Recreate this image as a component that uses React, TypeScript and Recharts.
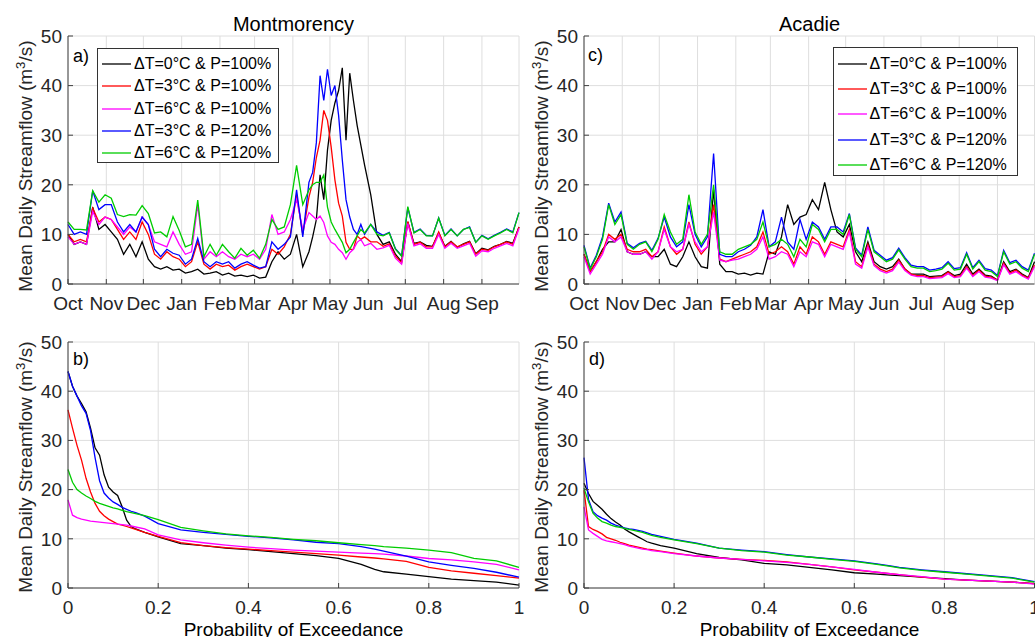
import React from 'react';
import { LineChart, Line, XAxis, YAxis, CartesianGrid, Legend } from 'recharts';

const FONT = '"Liberation Sans", Arial, Helvetica, sans-serif';
const AXIS = '#404040';
const TEXT = '#262626';
const GRID = '#dedede';

const SCENARIOS = [
  'ΔT=0°C & P=100%',
  'ΔT=3°C & P=100%',
  'ΔT=6°C & P=100%',
  'ΔT=3°C & P=120%',
  'ΔT=6°C & P=120%',
];
const COLORS = ['#000000', '#ff0000', '#ff00ff', '#0000ff', '#00cc00'];
const KEYS = ['s0', 's1', 's2', 's3', 's4'];

const MONTHS = ['Oct', 'Nov', 'Dec', 'Jan', 'Feb', 'Mar', 'Apr', 'May', 'Jun', 'Jul', 'Aug', 'Sep'];
const MONTH_STARTS = [0, 31, 61, 92, 123, 151, 182, 212, 243, 273, 304, 335];
const FLOW_TICKS = [0, 10, 20, 30, 40, 50];
const PROB_TICKS = [0, 0.2, 0.4, 0.6, 0.8, 1];

// Montmorency, mean daily flow, day of water year (1 Oct = 0)
const MONT_DAYS = [
  0, 5, 10, 15, 20, 25, 30, 35, 40, 45, 50, 55, 60, 65, 70, 75, 80, 85, 90, 95, 100, 105, 110, 115, 120, 125, 130,
  135, 140, 145, 150, 155, 160, 165, 170, 175, 180, 185, 190,
  195, 198, 201, 204, 207, 210, 213, 216, 219, 222, 225, 228, 231, 234, 237, 240,
  245, 250, 255, 260, 265, 270, 275, 280, 285, 290, 295, 300, 305, 310, 315, 320, 325, 330, 335, 340, 345, 350,
  355, 360, 365,
];
const MONT_T0_P100 = [
  10, 8, 8.5, 8, 15.5, 11, 12, 10.5, 9, 6, 8, 5.5, 8.5, 5, 3.5, 3, 3.5, 2.8, 3, 2.2, 2.5, 3, 2, 2.2, 2.5, 1.8, 2.2,
  1.6, 1.8, 1.5, 1.8, 1.2, 1.4, 4.5, 6.5, 5, 6, 10, 3.5,
  6.5, 9.5, 13, 22, 17, 27, 33, 36.5, 39, 43.6, 29, 42.5, 37, 32, 28, 24,
  18, 10, 8, 8.5, 6, 4.5, 12.5, 8.2, 8.5, 7.8, 7.6, 10.3, 7.6, 8.6, 7.4, 8.1, 8.6, 6.1, 7.2, 6.9, 7.6, 8, 8.6,
  8.2, 11.5,
];
const MONT_T3_P100 = [
  10, 8.5, 9, 8.5, 15.3, 12.5, 13.5, 13, 11, 9, 10.5, 9, 12.5, 10, 6, 5, 6.5, 5.5, 5, 3.5, 4.5, 8.5, 4, 3, 4, 3.5,
  3.8, 2.8, 3.5, 4, 3.5, 3, 3.5, 7, 6, 7.5, 10, 18, 10,
  17.5, 20.5, 25.5, 29, 35, 33, 27.6, 21, 16.3, 13.7, 8.4, 7, 7, 9.7, 9, 9.5,
  8.5, 8.5, 7.6, 8.1, 5.6, 4.3, 12.6, 8, 8.4, 7.5, 7.5, 10.5, 7.5, 8.5, 7.5, 8, 8.5, 6, 7, 6.8, 7.5, 8, 8.5, 8,
  11.5,
];
const MONT_T6_P100 = [
  9.5, 8, 8.5, 8, 14.6, 12, 13.5, 13, 11.5, 10, 11.5, 10.5, 13.5, 12, 8.5, 8, 7.5, 10.5, 8, 6, 6.5, 16, 5, 6.5,
  5.5, 6.5, 5.5, 5, 6, 5.5, 6, 5, 7, 14, 10, 10.5, 13, 17, 11,
  14.4, 13.7, 13, 13.7, 12.4, 9.7, 8.4, 8, 7, 6.3, 5, 6.3, 7, 8.4, 9, 7.7,
  8.2, 7, 7.3, 7.8, 5.2, 4, 12.2, 7.7, 8.1, 7.2, 7.2, 10, 7.2, 8.2, 7.2, 7.7, 8.2, 5.6, 6.7, 6.5, 7.2, 7.7, 8.2,
  7.7, 11.2,
];
const MONT_T3_P120 = [
  12, 10, 10.5, 10, 18.8, 15, 16, 16, 12.5, 10.5, 12, 10.5, 13.5, 12, 7, 5.5, 7, 6.2, 5.8, 4, 5, 9.2, 4.5, 3.5,
  4.5, 4, 4.5, 3.2, 4, 4.5, 3.8, 3.2, 3.5, 8.5, 7, 8, 9.5, 19, 9.5,
  20.5, 22.5, 28.5, 42, 37, 43.3, 38, 40, 34, 25, 17, 13.5, 11, 10, 12, 10,
  12, 10.5, 9.8, 10.4, 7.1, 5.7, 15.4, 10.4, 11.1, 9.8, 9.7, 13.3, 9.8, 11.1, 9.7, 11, 11.5, 8.4, 9.8, 9.1, 9.8,
  10.4, 11.1, 10.5, 14.4,
];
const MONT_T6_P120 = [
  12.5, 11, 11, 10.9, 18.8, 16.5, 18, 17.3, 14, 13.6, 14, 13.9, 15.8, 14.2, 10.3, 10.5, 9.5, 13.6, 10.8, 7.5, 8,
  16.9, 5.5, 8, 5.8, 8, 6.5, 5.2, 7.2, 5.8, 6.8, 5.2, 8, 13, 11, 11.5, 16, 23.9, 16,
  19, 20, 20.5, 20.5, 22, 15.5, 12.5, 11, 9.7, 8.4, 6.3, 7, 8.4, 9.7, 11, 10.3,
  12, 10, 9.7, 10.3, 7, 5.6, 15.6, 10.3, 11, 9.7, 9.7, 13.3, 9.7, 11, 9.7, 11, 11.4, 8.4, 9.7, 9, 9.7, 10.3, 11,
  10.3, 14.4,
];

// Acadie, mean daily flow
const ACAD_DAYS = [
  0, 5, 10, 15, 20, 25, 30, 35, 40, 45, 50, 55, 60, 65, 70, 75, 80, 85, 90, 95, 100, 105, 110, 115, 120, 125, 130,
  135, 140, 145, 150, 155, 160, 165, 170, 175, 180, 185, 190, 195, 200, 205, 210, 215, 220, 225, 230, 235, 240,
  245, 250, 255, 260, 265, 270, 275, 280, 285, 290, 295, 300, 305, 310, 315, 320, 325, 330, 335, 340, 345, 350,
  355, 360, 365,
];
const ACAD_T0_P100 = [
  6, 2.5, 4.5, 7, 8.5, 8.5, 11, 6.5, 6, 6, 6.5, 5.5, 5.5, 7, 4, 3.5, 5.5, 8.5, 5.5, 3.5,
  3.2, 19, 4, 2.5, 2.5, 2, 2.2, 1.8, 2.2, 2, 6.5, 6, 9.5, 16, 12, 13.5, 14, 17, 15, 20.5,
  15, 10.5, 9.5, 12, 6.5, 4.5, 8.5, 4.5, 3.5, 3, 3.5, 5, 3, 2, 2, 2, 1.5, 1.6, 1.7, 2.5,
  1.7, 2, 4, 2, 3, 1.8, 1.6, 0.8, 4.5, 2.5, 3, 2, 1.3, 4.5,
];
const ACAD_T3_P100 = [
  6, 2.5, 4.5, 6.5, 10, 9, 10, 7, 6.5, 6.5, 7, 5.5, 6.5, 11.5, 7.5, 6, 7, 12.5, 8, 6,
  7.5, 16, 5, 4.5, 5, 5.5, 6, 6.5, 7.5, 10.5, 6, 6.5, 7.5, 6.5, 4, 7.5, 6, 9.5, 8.5, 6,
  8.5, 8, 7.5, 11, 4.5, 3.5, 8, 4, 3, 2.5, 3, 4.8, 3, 2, 1.7, 1.7, 1.3, 1.4, 1.5, 2.4,
  1.5, 1.7, 3.5, 1.7, 2.8, 1.6, 1.4, 0.8, 4.2, 2.2, 2.8, 1.8, 1.2, 3.8,
];
const ACAD_T6_P100 = [
  5.5, 2, 4, 6, 9.5, 8.5, 9.5, 6.5, 6, 6, 6.5, 5, 6.5, 11, 7.5, 6.5, 7, 12, 8.5, 6.5,
  7.5, 14.5, 4.8, 4.5, 4.8, 5, 5.5, 6, 7, 9.5, 5, 5.5, 6.5, 6, 3.5, 6.5, 5.5, 8.5, 8, 5.5,
  8, 7.5, 7, 10.5, 4, 3.2, 7.5, 3.7, 2.7, 2.2, 2.7, 4.4, 2.7, 1.8, 1.5, 1.5, 1.1, 1.2, 1.3, 2.1,
  1.3, 1.5, 3.2, 1.5, 2.5, 1.4, 1.2, 0.7, 3.9, 2, 2.5, 1.6, 1, 3.5,
];
const ACAD_T3_P120 = [
  7.8, 3.2, 5.8, 9.5, 16.3, 12.5, 14.5, 8.2, 7.3, 8.2, 8.6, 6.8, 9.2, 13.5, 9.5, 7.5, 8.5, 16, 10, 7.5,
  9.5, 26.3, 6, 5.5, 5.5, 6.5, 7, 7.8, 9.5, 15, 7.5, 8.5, 13.5, 8.5, 7, 13, 9, 12.5, 11.5, 9,
  11.5, 11.5, 10.5, 14.2, 7.3, 5.8, 11.5, 6.8, 5.8, 4.8, 5.3, 7.2, 5.3, 3.8, 3.5, 3.5, 2.8, 3, 3.3, 4.5,
  3.1, 3.3, 6.3, 3.3, 4.8, 3.1, 2.8, 1.7, 6.8, 4.3, 4.8, 3.5, 2.8, 6.2,
];
const ACAD_T6_P120 = [
  7.5, 3, 5.5, 9, 16, 12, 14, 8, 7, 8, 8.5, 6.5, 9, 14, 10.5, 8, 9, 18, 10.5, 8,
  10, 20, 6.5, 6, 6, 7, 7.5, 8, 9, 12.5, 7.5, 8, 9, 8, 5.5, 9, 7.5, 12, 11, 8.5,
  11, 11, 10, 14, 7, 5.5, 11, 6.5, 5.5, 4.5, 5, 6.9, 5, 3.5, 3.2, 3.2, 2.5, 2.7, 3, 4.2,
  2.8, 3, 6, 3, 4.5, 2.8, 2.5, 1.5, 6.5, 4, 4.5, 3.2, 2.5, 6,
];

// flow duration curves
const EXCEEDANCE = [
  0, 0.01, 0.02, 0.03, 0.04, 0.05, 0.06, 0.07, 0.08, 0.09, 0.1, 0.11, 0.12, 0.13, 0.14, 0.15, 0.17, 0.2, 0.25,
  0.3, 0.35, 0.4, 0.45, 0.5, 0.55, 0.6, 0.65, 0.68, 0.7, 0.75, 0.8, 0.85, 0.9, 0.95, 1,
];
const MONT_FDC_T0_P100 = [
  44, 41, 39, 37.5, 35.8, 32.5, 28.5, 27, 23, 20.5, 19.5, 18.8, 16.5, 13.8, 12.5, 12, 11.3, 10.4, 9, 8.6, 8.1, 7.8,
  7.4, 7, 6.6, 6, 4.8, 3.8, 3.3, 2.8, 2.3, 1.8, 1.5, 1.2, 0.6,
];
const MONT_FDC_T3_P100 = [
  36.2, 32.5, 29, 26, 22.3, 19.5, 17.2, 15.6, 14.7, 14, 13.5, 13, 12.8, 12.5, 12.2, 11.9, 11.3, 10.5, 9.2, 8.6,
  8.2, 7.9, 7.6, 7.3, 7, 6.7, 6.3, 6.1, 5.9, 5.4, 4.2, 3.5, 3, 2.5, 2,
];
const MONT_FDC_T6_P100 = [
  17.9, 14.8, 14.3, 14, 13.8, 13.6, 13.5, 13.4, 13.3, 13.2, 13.1, 13, 12.9, 12.8, 12.6, 12.4, 12, 10.8, 9.8, 9.2,
  8.7, 8.3, 8, 7.7, 7.5, 7.3, 7.1, 7, 6.9, 6.5, 6, 5.7, 5.3, 4.8, 3.7,
];
const MONT_FDC_T3_P120 = [
  44, 41, 39, 37, 35.5, 32, 26.5, 21.8, 19.3, 18.3, 17.5, 17, 16.4, 16, 15.6, 15.3, 14.6, 13.1, 11.8, 11.3, 10.9,
  10.5, 10.2, 9.8, 9.3, 9, 8.4, 7.9, 7.5, 6.5, 5.3, 4.6, 4, 3.2, 2.2,
];
const MONT_FDC_T6_P120 = [
  24.1, 21.5, 20, 19.3, 18.7, 18.2, 17.6, 17.2, 16.9, 16.6, 16.3, 16.1, 15.8, 15.5, 15.3, 15.1, 14.7, 13.9, 12.3,
  11.6, 11, 10.6, 10.3, 9.9, 9.6, 9.2, 8.8, 8.6, 8.4, 8.1, 7.7, 7.2, 6, 5.5, 4.2,
];
const ACAD_FDC_T0_P100 = [
  21.3, 19.2, 17.6, 16.8, 16, 15, 14.1, 13.4, 12.8, 12, 11.4, 10.9, 10.4, 9.9, 9.4, 9.1, 8.6, 8.1, 7, 6.2, 5.7, 5,
  4.7, 4.2, 3.7, 3.1, 2.8, 2.6, 2.5, 2.2, 1.9, 1.6, 1.4, 1.2, 0.9,
];
const ACAD_FDC_T3_P100 = [
  19.9, 12.5, 11.9, 11.5, 11, 10.3, 10, 9.7, 9.3, 9, 8.7, 8.5, 8.3, 8.1, 7.9, 7.8, 7.5, 7.1, 6.5, 6.1, 5.8, 5.6,
  5.3, 4.8, 4.3, 3.7, 3.2, 2.9, 2.7, 2.2, 1.8, 1.6, 1.4, 1.2, 0.9,
];
const ACAD_FDC_T6_P100 = [
  16.5, 11.8, 11.1, 10.5, 9.9, 9.6, 9.4, 9.2, 9, 8.8, 8.5, 8.3, 8.1, 7.9, 7.8, 7.6, 7.4, 7, 6.5, 6.1, 5.8, 5.5,
  5.2, 4.8, 4.3, 3.8, 3.2, 2.9, 2.7, 2.3, 1.8, 1.6, 1.4, 1.2, 0.8,
];
const ACAD_FDC_T3_P120 = [
  26.5, 18, 15.5, 14.7, 14.2, 13.8, 13.2, 12.8, 12.5, 12.2, 12, 11.9, 11.7, 11.5, 11.2, 10.9, 10.5, 9.9, 9.1, 8.1,
  7.7, 7.4, 6.8, 6.3, 5.9, 5.5, 4.9, 4.5, 4.2, 3.7, 3.3, 2.9, 2.5, 2.1, 1.3,
];
const ACAD_FDC_T6_P120 = [
  20.3, 17.5, 15.2, 14.2, 13.5, 13.2, 12.8, 12.5, 12.3, 12.1, 11.9, 11.7, 11.5, 11.3, 11, 10.7, 10.3, 9.8, 9, 8.1,
  7.6, 7.3, 6.7, 6.3, 5.8, 5.4, 4.8, 4.4, 4.1, 3.6, 3.2, 2.8, 2.4, 2, 1.2,
];

function buildRows(xs: number[], series: number[][]) {
  return xs.map((x, i) => {
    const row: Record<string, number> = { x };
    series.forEach((s, k) => {
      row[KEYS[k]] = s[i];
    });
    return row;
  });
}

const montFlow = buildRows(MONT_DAYS, [MONT_T0_P100, MONT_T3_P100, MONT_T6_P100, MONT_T3_P120, MONT_T6_P120]);
const acadFlow = buildRows(ACAD_DAYS, [ACAD_T0_P100, ACAD_T3_P100, ACAD_T6_P100, ACAD_T3_P120, ACAD_T6_P120]);
const montFdc = buildRows(EXCEEDANCE, [
  MONT_FDC_T0_P100, MONT_FDC_T3_P100, MONT_FDC_T6_P100, MONT_FDC_T3_P120, MONT_FDC_T6_P120,
]);
const acadFdc = buildRows(EXCEEDANCE, [
  ACAD_FDC_T0_P100, ACAD_FDC_T3_P100, ACAD_FDC_T6_P100, ACAD_FDC_T3_P120, ACAD_FDC_T6_P120,
]);

const monthLabel = (v: number) => MONTHS[MONTH_STARTS.indexOf(v)] ?? '';

interface LegendCfg {
  left: number;
  top: number;
  width: number;
  height: number;
  rowHeight: number;
  padTop: number;
  padLeft: number;
}

function LegendBox({ payload, cfg }: { payload?: any[]; cfg: LegendCfg }) {
  // keep the plotting order, not the alphabetical one
  const items = [...(payload ?? [])].sort((a, b) => KEYS.indexOf(a.dataKey) - KEYS.indexOf(b.dataKey));
  return (
    <div
      style={{
        boxSizing: 'border-box',
        width: cfg.width,
        height: cfg.height,
        border: '1px solid #333',
        background: '#fff',
        paddingTop: cfg.padTop,
        paddingLeft: cfg.padLeft,
        fontFamily: FONT,
        fontSize: 16,
        color: '#000',
      }}
    >
      {items.map((p) => (
        <div key={p.value} style={{ display: 'flex', alignItems: 'center', height: cfg.rowHeight }}>
          <svg width={29} height={4} style={{ display: 'block' }}>
            <line x1={0} y1={2} x2={29} y2={2} stroke={p.color} strokeWidth={1.3} />
          </svg>
          <span style={{ marginLeft: 3, whiteSpace: 'nowrap' }}>{p.value}</span>
        </div>
      ))}
    </div>
  );
}

interface PanelProps {
  left: number;
  top: number;
  width: number;
  height: number;
  margin: { top: number; right: number; bottom: number; left: number };
  xAxisHeight: number;
  data: Record<string, number>[];
  xDomain: [number, number];
  xTicks: number[];
  xFormat?: (v: number) => string;
  legend?: LegendCfg;
}

function Panel(p: PanelProps) {
  const tickStyle = { fill: TEXT, fontSize: 19, fontFamily: FONT };
  return (
    <div style={{ position: 'absolute', left: p.left, top: p.top }}>
      <LineChart width={p.width} height={p.height} data={p.data} margin={p.margin}>
        <CartesianGrid stroke={GRID} />
        <XAxis
          dataKey="x"
          type="number"
          domain={p.xDomain}
          ticks={p.xTicks}
          interval={0}
          tickFormatter={p.xFormat}
          height={p.xAxisHeight}
          tickSize={-5}
          tickMargin={18}
          stroke={AXIS}
          tick={tickStyle}
        />
        <XAxis
          xAxisId="top"
          orientation="top"
          dataKey="x"
          type="number"
          domain={p.xDomain}
          ticks={p.xTicks}
          interval={0}
          height={0}
          tickSize={-5}
          tick={false}
          stroke={AXIS}
        />
        <YAxis
          type="number"
          domain={[0, 50]}
          ticks={FLOW_TICKS}
          interval={0}
          width={68}
          tickSize={-5}
          tickMargin={11}
          stroke={AXIS}
          tick={tickStyle}
        />
        <YAxis
          yAxisId="right"
          orientation="right"
          type="number"
          domain={[0, 50]}
          ticks={FLOW_TICKS}
          interval={0}
          width={0}
          tickSize={-5}
          tick={false}
          stroke={AXIS}
        />
        {p.legend && (
          <Legend
            layout="vertical"
            align="center"
            verticalAlign="middle"
            itemSorter={(item: any) => KEYS.indexOf(item.dataKey)}
            wrapperStyle={{ left: p.legend.left, top: p.legend.top, width: p.legend.width, height: p.legend.height }}
            content={(props: any) => <LegendBox payload={props.payload} cfg={p.legend as LegendCfg} />}
          />
        )}
        {KEYS.map((k, i) => (
          <Line
            key={k}
            type="linear"
            dataKey={k}
            name={SCENARIOS[i]}
            stroke={COLORS[i]}
            strokeWidth={1.3}
            dot={false}
            activeDot={false}
            isAnimationActive={false}
          />
        ))}
      </LineChart>
    </div>
  );
}

function Text({ x, baseline, size, children, anchor = 'left' }: {
  x: number; baseline: number; size: number; children: React.ReactNode; anchor?: 'left' | 'center';
}) {
  const top = baseline - 0.8465 * size;
  const style: React.CSSProperties = {
    position: 'absolute',
    top,
    fontSize: size,
    lineHeight: `${size}px`,
    whiteSpace: 'nowrap',
    color: '#000',
  };
  if (anchor === 'center') {
    return <div style={{ ...style, left: x - 200, width: 400, textAlign: 'center' }}>{children}</div>;
  }
  return <div style={{ ...style, left: x }}>{children}</div>;
}

function YLabel({ cx, cy }: { cx: number; cy: number }) {
  return (
    <div
      style={{
        position: 'absolute',
        left: cx - 160,
        top: cy - 12,
        width: 320,
        height: 24,
        lineHeight: '24px',
        textAlign: 'center',
        transform: 'rotate(-90deg)',
        fontSize: 19,
        color: TEXT,
        whiteSpace: 'nowrap',
      }}
    >
      Mean Daily Streamflow (m<sup style={{ fontSize: '0.7em', lineHeight: 0 }}>3</sup>/s)
    </div>
  );
}

export default function App() {
  return (
    <div
      style={{
        position: 'absolute',
        left: 0,
        top: 0,
        width: 1035,
        height: 637,
        overflow: 'hidden',
        background: '#fff',
        fontFamily: FONT,
      }}
    >
      <Panel
        left={0}
        top={0}
        width={535}
        height={320}
        margin={{ top: 36, right: 16, bottom: 0, left: 0 }}
        xAxisHeight={36}
        data={montFlow}
        xDomain={[0, 365]}
        xTicks={MONTH_STARTS}
        xFormat={monthLabel}
        legend={{ left: 97, top: 48, width: 182, height: 115, rowHeight: 22.3, padTop: 4, padLeft: 4 }}
      />
      <Panel
        left={516}
        top={0}
        width={530}
        height={320}
        margin={{ top: 36, right: 11.5, bottom: 0, left: 0 }}
        xAxisHeight={36}
        data={acadFlow}
        xDomain={[0, 365]}
        xTicks={MONTH_STARTS}
        xFormat={monthLabel}
        legend={{ left: 317, top: 47, width: 185, height: 129, rowHeight: 25.2, padTop: 3.4, padLeft: 3.5 }}
      />
      <Panel
        left={0}
        top={320}
        width={535}
        height={317}
        margin={{ top: 22, right: 16, bottom: 0, left: 0 }}
        xAxisHeight={49}
        data={montFdc}
        xDomain={[0, 1]}
        xTicks={PROB_TICKS}
      />
      <Panel
        left={516}
        top={320}
        width={530}
        height={317}
        margin={{ top: 22, right: 11.5, bottom: 0, left: 0 }}
        xAxisHeight={49}
        data={acadFdc}
        xDomain={[0, 1]}
        xTicks={PROB_TICKS}
      />

      <Text x={293.5} baseline={30.7} size={20} anchor="center">Montmorency</Text>
      <Text x={809.5} baseline={30.7} size={20} anchor="center">Acadie</Text>

      <Text x={73} baseline={62} size={18}>a)</Text>
      <Text x={73} baseline={365} size={18}>b)</Text>
      <Text x={588} baseline={61} size={18}>c)</Text>
      <Text x={589} baseline={365} size={18}>d)</Text>

      <YLabel cx={26} cy={166} />
      <YLabel cx={26} cy={467} />
      <YLabel cx={542} cy={166} />
      <YLabel cx={542} cy={467} />

      <Text x={293.5} baseline={636} size={19} anchor="center">Probability of Exceedance</Text>
      <Text x={809.5} baseline={636} size={19} anchor="center">Probability of Exceedance</Text>
    </div>
  );
}
